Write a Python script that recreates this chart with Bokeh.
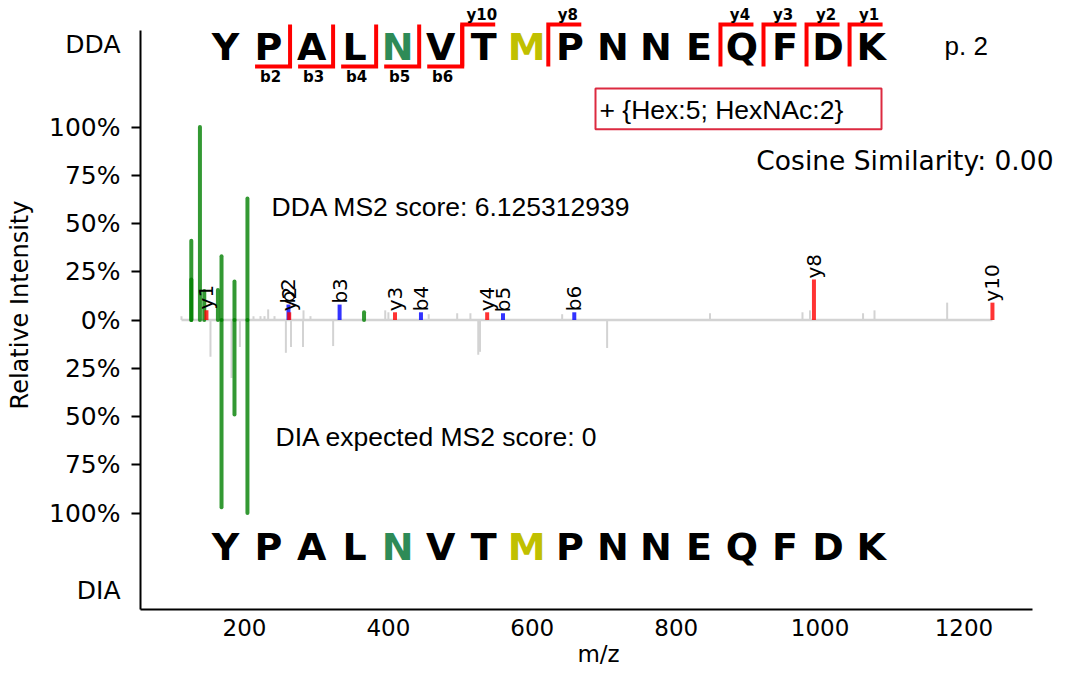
import numpy as np
from bokeh.plotting import figure
from bokeh.models import Range1d, FixedTicker, Label
from bokeh.core.properties import value
from bokeh.embed import file_html
from bokeh.resources import INLINE

# ---------------- data ----------------
peptide = "YPALNVTMPNNEQFDK"
glycan = "+ {Hex:5; HexNAc:2}"
page_label = "p. 2"
dda_score = "6.125312939"
dia_score = "0"
cosine_similarity = "0.00"

b_labels = ["b2", "b3", "b4", "b5", "b6"]
b_mz = [261.13, 332.17, 445.25, 559.30, 658.36]
b_dda = [0.08, 0.08, 0.04, 0.035, 0.04]

y_labels = ["y1", "y2", "y3", "y4", "y8", "y10"]
y_mz = [147.11, 262.14, 409.21, 537.27, 991.45, 1239.54]
y_dda = [0.05, 0.04, 0.04, 0.04, 0.21, 0.09]

oxonium_dda_mz = [126.06, 126.09, 138.06, 144.07, 163.06, 168.07, 186.08, 204.09, 366.14]
oxonium_dda = [0.41, 0.21, 1.00, 0.15, 0.155, 0.33, 0.20, 0.63, 0.04]
oxonium_dia_mz = [168.07, 186.08, 204.09]
oxonium_dia = [0.97, 0.49, 1.00]

other_dda_mz = [112.4, 212.5, 222.2, 227.8, 232.9, 241.7, 282.0, 291.7, 395.6, 400.0,
                456.0, 495.6, 514.0, 641.5, 847.0, 975.5, 986.0, 1059.7, 1075.6, 1176.6]
other_dda = [0.02, 0.02, 0.02, 0.02, 0.055, 0.02, 0.05, 0.02, 0.05, 0.04,
             0.03, 0.035, 0.035, 0.03, 0.035, 0.04, 0.05, 0.035, 0.05, 0.09]
other_dia_mz = [152.7, 182.0, 193.6, 257.5, 264.6, 281.3, 323.2, 524.9, 527.3, 704.0]
other_dia = [0.19, 0.30, 0.14, 0.17, 0.14, 0.14, 0.135, 0.18, 0.165, 0.145]

y_ticks = [-1, -0.75, -0.5, -0.25, 0, 0.25, 0.5, 0.75, 1]
x_ticks = [200, 400, 600, 800, 1000, 1200]
side_labels = {1.43: "DDA", -1.40: "DIA"}

# ---------------- layout helpers (reference pixel -> data) ----------------
def X(px):
    return 200 + (px - 244) / 0.7195

def Y(py):
    return 1.5 - (py - 30) * 3.0 / 580.0

W, H = 1056, 673
MB = 64
frame_bottom = H - MB
ypx_per_unit = (frame_bottom - 30) / 3.0
y_top = 1.5 + 30 / ypx_per_unit

p = figure(width=W, height=H, output_backend="svg", toolbar_location=None,
           x_range=Range1d(X(140), X(W)), y_range=Range1d(-1.5, y_top),
           min_border_left=140, min_border_right=0, min_border_top=0, min_border_bottom=MB)
p.outline_line_color = None
p.xgrid.visible = False
p.ygrid.visible = False

TICK_FONT = "DejaVu Sans"
xa = p.xaxis[0]
xa.bounds = (X(140), X(1032))
xa.ticker = FixedTicker(ticks=x_ticks)
xa.major_tick_out = 0
xa.major_tick_in = 0
xa.minor_tick_out = 0
xa.minor_tick_in = 0
xa.axis_line_width = 2
xa.axis_line_color = "black"
xa.major_label_text_font = TICK_FONT
xa.major_label_text_font_size = "23px"
xa.major_label_text_color = "black"
xa.major_label_standoff = 9
xa.axis_label = "m/z"
xa.axis_label_text_font = TICK_FONT
xa.axis_label_text_font_size = "23px"
xa.axis_label_text_font_style = "normal"
xa.axis_label_text_color = "black"
xa.axis_label_standoff = 2

ya = p.yaxis[0]
ya.bounds = (-1.5, 1.5)
ya.ticker = FixedTicker(ticks=y_ticks + list(side_labels.keys()), minor_ticks=y_ticks)
overrides = {t: f"{abs(t) * 100:.0f}%" for t in y_ticks}
overrides.update(side_labels)
ya.major_label_overrides = overrides
ya.major_tick_out = 0
ya.major_tick_in = 0
ya.minor_tick_out = 9
ya.minor_tick_in = 0
ya.minor_tick_line_width = 2
ya.minor_tick_line_color = "black"
ya.axis_line_width = 2
ya.axis_line_color = "black"
ya.major_label_text_font = TICK_FONT
ya.major_label_text_font_size = "25px"
ya.major_label_text_color = "black"
ya.major_label_standoff = 11
ya.axis_label = "Relative Intensity"
ya.axis_label_text_font = TICK_FONT
ya.axis_label_text_font_size = "24px"
ya.axis_label_text_font_style = "normal"
ya.axis_label_text_color = "black"
ya.axis_label_standoff = 12

# ---------------- peaks ----------------
all_mz = other_dda_mz + other_dia_mz + oxonium_dda_mz + b_mz + y_mz
p.segment(x0=other_dda_mz, y0=0, x1=other_dda_mz, y1=other_dda, line_color="#d3d3d3", line_width=2)
p.segment(x0=other_dia_mz, y0=0, x1=other_dia_mz, y1=[-v for v in other_dia], line_color="#d3d3d3", line_width=2)
p.segment(x0=[min(all_mz)], y0=[0], x1=[max(all_mz)], y1=[0], line_color="#d3d3d3", line_width=2.5)

p.segment(x0=oxonium_dda_mz, y0=0, x1=oxonium_dda_mz, y1=oxonium_dda,
          line_color="green", line_alpha=0.8, line_width=4, line_cap="round")
p.segment(x0=oxonium_dia_mz, y0=0, x1=oxonium_dia_mz, y1=[-v for v in oxonium_dia],
          line_color="green", line_alpha=0.8, line_width=4, line_cap="round")

p.segment(x0=b_mz, y0=0, x1=b_mz, y1=b_dda, line_color="blue", line_alpha=0.8, line_width=4)
p.segment(x0=y_mz, y0=0, x1=y_mz, y1=y_dda, line_color="red", line_alpha=0.8, line_width=4)

lab_mz = y_mz + b_mz
lab_int = [v + 0.005 for v in (y_dda + b_dda)]
p.text(x=lab_mz, y=lab_int, text=y_labels + b_labels, angle=np.pi / 2,
       text_align="left", text_baseline="middle",
       text_font=value("DejaVu Sans"), text_font_size=value("20px"), text_color="black")

# ---------------- sequence annotations ----------------
residue_colors = {4: "#2e8b57", 7: "#c0c000"}
seq_x0, seq_step = 225.0, 43.04
cx = [seq_x0 + seq_step * i for i in range(len(peptide))]
colors = [residue_colors.get(i, "black") for i in range(len(peptide))]
for ypos in (47, 547):
    p.text(x=[X(c) for c in cx], y=[Y(ypos)] * len(peptide), text=list(peptide),
           text_align="center", text_baseline="middle", text_color=colors,
           text_font=value("DejaVu Sans"), text_font_style="bold", text_font_size=value("38px"))

br_xs, br_ys = [], []
lab_x, lab_y, lab_t = [], [], []
for lbl in b_labels:
    n = int(lbl[1:])
    i = n - 1
    bx = cx[i] + seq_step / 2
    br_xs.append([X(bx - 35), X(bx), X(bx)])
    br_ys.append([Y(66), Y(66), Y(24)])
    lab_x.append(X(cx[i] + 2)); lab_y.append(Y(77)); lab_t.append(lbl)
for lbl in y_labels:
    n = int(lbl[1:])
    i = len(peptide) - n
    bx = cx[i] - seq_step / 2
    br_xs.append([X(bx), X(bx), X(bx + 33)])
    br_ys.append([Y(66), Y(24), Y(24)])
    lab_x.append(X(cx[i] - 2)); lab_y.append(Y(14)); lab_t.append(lbl)
p.multi_line(xs=br_xs, ys=br_ys, line_color="red", line_width=4, line_join="miter")
p.text(x=lab_x, y=lab_y, text=lab_t, text_align="center", text_baseline="middle",
       text_font=value("DejaVu Sans"), text_font_style="bold", text_font_size=value("15px"),
       text_color="black")

# glycan box
p.quad(left=[X(595)], right=[X(881)], top=[Y(88)], bottom=[Y(129)],
       fill_color=None, line_color="#dc2a40", line_width=2)

def add_label(px, py, txt, font, size, align="left"):
    p.add_layout(Label(x=X(px), y=Y(py), text=txt, text_font=font, text_font_size=size,
                       text_align=align, text_baseline="middle", text_color="black"))

add_label(599, 110, glycan, "Liberation Sans", "26.5px")
add_label(944, 46, page_label, "Liberation Sans", "26px")
add_label(1053, 160, "Cosine Similarity: " + cosine_similarity, "DejaVu Sans", "26.5px", "right")
add_label(271, 207, "DDA MS2 score: " + dda_score, "Liberation Sans", "26.5px")
add_label(275, 437, "DIA expected MS2 score: " + dia_score, "Liberation Sans", "26.5px")

open("out.html", "w").write(file_html(p, INLINE))
